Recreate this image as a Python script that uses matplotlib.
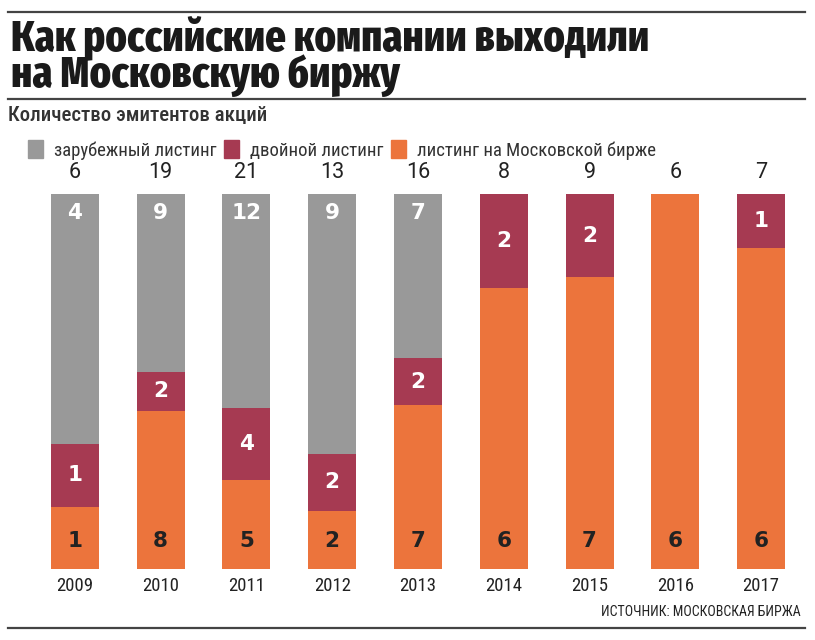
import matplotlib.pyplot as plt
import numpy as np
from matplotlib.lines import Line2D
from matplotlib.patches import Patch

years = ["2009", "2010", "2011", "2012", "2013", "2014", "2015", "2016", "2017"]
foreign = [4, 9, 12, 9, 7, 0, 0, 0, 0]
dual = [1, 2, 4, 2, 2, 2, 2, 0, 1]
moscow = [1, 8, 5, 2, 7, 6, 7, 6, 6]
series_names = ["зарубежный листинг", "двойной листинг", "листинг на Московской бирже"]

c_gray = "#999999"
c_dual = "#a63a52"
c_orange = "#ec743c"

title_font = ["Fira Sans Extra Condensed", "DejaVu Sans"]
narrow = ["Roboto Condensed", "DejaVu Sans"]

foreign = np.array(foreign, float)
dual = np.array(dual, float)
moscow = np.array(moscow, float)
total = foreign + dual + moscow
f_sh = foreign / total
d_sh = dual / total
m_sh = moscow / total
x = np.arange(len(years))

fig = plt.figure(figsize=(8.15, 6.4), dpi=100)
ax = fig.add_axes([32 / 815, 71 / 640, 772 / 815, 375 / 640])

w = 0.56
ax.bar(x, m_sh, w, color=c_orange, label=series_names[2])
ax.bar(x, d_sh, w, bottom=m_sh, color=c_dual, label=series_names[1])
ax.bar(x, f_sh, w, bottom=m_sh + d_sh, color=c_gray, label=series_names[0])

ax.set_xlim(-0.5, len(years) - 0.5)
ax.set_ylim(0, 1)
for s in ax.spines.values():
    s.set_visible(False)
ax.set_yticks([])
ax.set_xticks(x)
ax.set_xticklabels(years, fontsize=13.5, family=narrow, color="#222222")
ax.tick_params(axis="x", length=0, pad=6)

for i in range(len(years)):
    ax.text(x[i], 1.057, "%d" % total[i], ha="center", va="center",
            fontsize=15.5, family=["Roboto", "DejaVu Sans"], color="#222222")
    if foreign[i] > 0:
        ax.text(x[i], 1 - 0.05, "%d" % foreign[i], ha="center", va="center",
                fontsize=15.5, fontweight="bold", color="white")
    if dual[i] > 0:
        ax.text(x[i], m_sh[i] + d_sh[i] / 2, "%d" % dual[i], ha="center",
                va="center", fontsize=15.5, fontweight="bold", color="white")
    if moscow[i] > 0:
        ax.text(x[i], 0.075, "%d" % moscow[i], ha="center", va="center",
                fontsize=15.5, fontweight="bold", color="#222222")

# header / footer rules
for yy in [12, 99, 628]:
    fig.add_artist(Line2D([8 / 815, 805 / 815], [1 - yy / 640] * 2,
                          color="#444444", lw=1.6, transform=fig.transFigure))

fig.text(11 / 815, 1 - 39 / 640, "Как российские компании выходили",
         fontsize=31.5, fontweight=800, family=title_font, va="center", color="#1a1a1a")
fig.text(11 / 815, 1 - 76 / 640, "на Московскую биржу",
         fontsize=31.5, fontweight=800, family=title_font, va="center", color="#1a1a1a")
fig.text(8 / 815, 1 - 116 / 640, "Количество эмитентов акций",
         fontsize=15, fontweight=500, family=narrow, va="center", color="#333333")
fig.text(801 / 815, 1 - 612 / 640, "ИСТОЧНИК: МОСКОВСКАЯ БИРЖА",
         fontsize=10, family=narrow, ha="right", va="center", color="#222222")

handles = [Patch(color=c_gray), Patch(color=c_dual), Patch(color=c_orange)]
fig.legend(handles, series_names, loc="center left",
           bbox_to_anchor=(20 / 815, 1 - 150 / 640), ncol=3, frameon=False,
           prop={"family": narrow, "size": 13.5}, handlelength=0.8,
           handleheight=1.1, handletextpad=0.6, columnspacing=0.4,
           borderaxespad=0, labelcolor="#333333")

fig.savefig("out.png", dpi=100, facecolor="white")
